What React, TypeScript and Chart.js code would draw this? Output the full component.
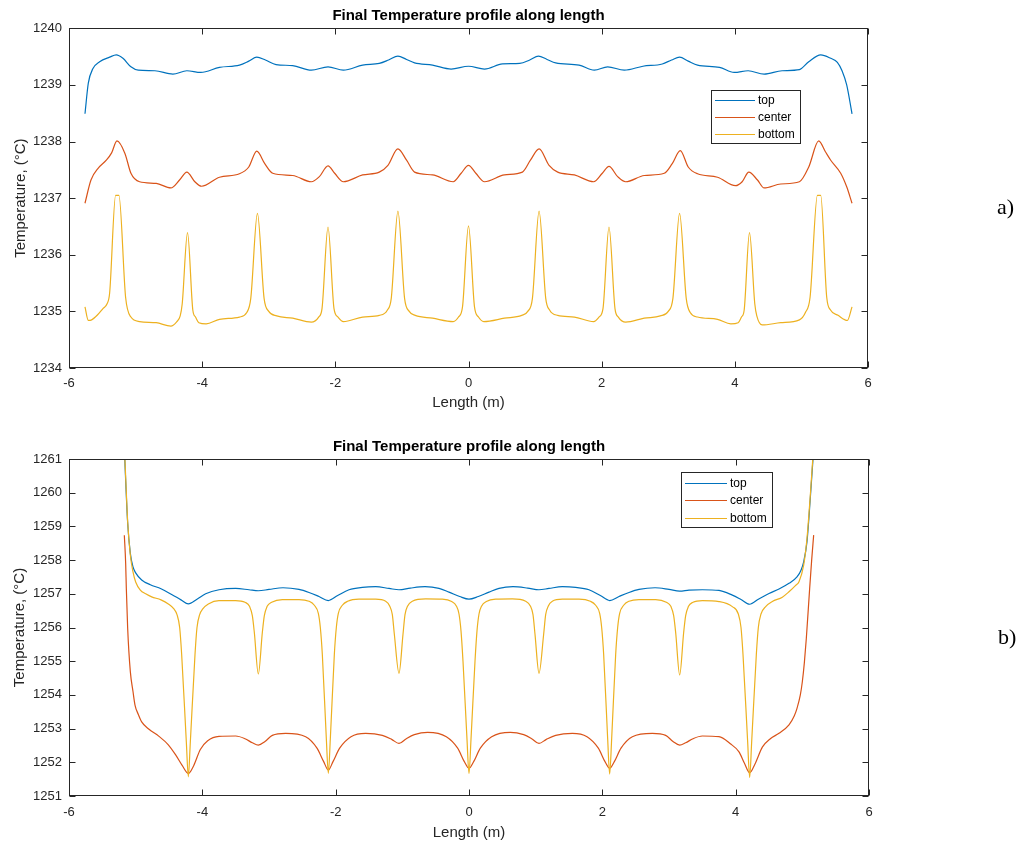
import React, { useEffect, useRef } from "react";
import { Chart, registerables } from "chart.js";

Chart.register(...registerables);

const FONT = '"Liberation Sans", Arial, Helvetica, sans-serif';
const TITLE = "Final Temperature profile along length";
const X_LABEL = "Length (m)";
const Y_LABEL = "Temperature, (°C)";
const SERIES_NAMES = ["top", "center", "bottom"];
const SERIES_COLORS = ["#0072BD", "#D95319", "#EDB120"];

// ---- (a) upper plot ----
const A_Y_MIN = 1234;
const A_Y_MAX = 1240;
const A_TOP: [number, number][] = [
  [-5.76, 1238.49], [-5.71, 1239.03], [-5.64, 1239.29], [-5.54, 1239.41], [-5.39, 1239.49], [-5.29, 1239.53],
  [-5.19, 1239.47], [-5.07, 1239.32], [-4.96, 1239.26], [-4.71, 1239.25], [-4.44, 1239.19], [-4.23, 1239.25],
  [-4.02, 1239.22], [-3.74, 1239.31], [-3.44, 1239.35], [-3.30, 1239.42], [-3.18, 1239.49], [-3.05, 1239.44],
  [-2.89, 1239.36], [-2.64, 1239.34], [-2.36, 1239.26], [-2.11, 1239.32], [-1.88, 1239.26], [-1.59, 1239.35],
  [-1.34, 1239.38], [-1.20, 1239.44], [-1.06, 1239.51], [-0.93, 1239.45], [-0.81, 1239.39], [-0.54, 1239.35],
  [-0.26, 1239.28], [0, 1239.33], [0.24, 1239.28], [0.51, 1239.37], [0.77, 1239.38], [0.92, 1239.44],
  [1.05, 1239.51], [1.18, 1239.45], [1.31, 1239.39], [1.66, 1239.35], [1.89, 1239.26], [2.09, 1239.32],
  [2.34, 1239.26], [2.62, 1239.33], [2.91, 1239.37], [3.05, 1239.44], [3.17, 1239.49], [3.30, 1239.42],
  [3.44, 1239.35], [3.77, 1239.31], [3.99, 1239.22], [4.20, 1239.25], [4.44, 1239.19], [4.71, 1239.25],
  [4.97, 1239.27], [5.11, 1239.41], [5.29, 1239.53], [5.44, 1239.47], [5.54, 1239.40], [5.61, 1239.25],
  [5.68, 1239.0], [5.76, 1238.49],
];
const A_CENTER: [number, number][] = [
  [-5.76, 1236.91], [-5.67, 1237.32], [-5.56, 1237.53], [-5.44, 1237.67], [-5.36, 1237.80], [-5.28, 1238.01],
  [-5.16, 1237.79], [-5.07, 1237.44], [-4.94, 1237.29], [-4.69, 1237.26], [-4.47, 1237.18], [-4.34, 1237.32],
  [-4.23, 1237.46], [-4.11, 1237.29], [-4.01, 1237.21], [-3.74, 1237.37], [-3.44, 1237.43], [-3.30, 1237.55],
  [-3.18, 1237.83], [-3.06, 1237.61], [-2.94, 1237.44], [-2.64, 1237.40], [-2.36, 1237.29], [-2.24, 1237.38],
  [-2.11, 1237.57], [-2.01, 1237.44], [-1.88, 1237.29], [-1.59, 1237.41], [-1.34, 1237.46], [-1.21, 1237.58],
  [-1.06, 1237.87], [-0.93, 1237.67], [-0.81, 1237.46], [-0.54, 1237.41], [-0.23, 1237.29], [-0.11, 1237.44],
  [0, 1237.58], [0.11, 1237.44], [0.24, 1237.29], [0.54, 1237.41], [0.81, 1237.46], [0.93, 1237.67],
  [1.06, 1237.87], [1.21, 1237.58], [1.34, 1237.46], [1.59, 1237.41], [1.88, 1237.29], [2.01, 1237.44],
  [2.11, 1237.56], [2.24, 1237.38], [2.36, 1237.29], [2.64, 1237.40], [2.94, 1237.44], [3.06, 1237.61],
  [3.18, 1237.84], [3.30, 1237.55], [3.44, 1237.43], [3.74, 1237.37], [4.01, 1237.22], [4.11, 1237.29],
  [4.21, 1237.46], [4.34, 1237.32], [4.44, 1237.18], [4.69, 1237.25], [4.97, 1237.29], [5.11, 1237.55],
  [5.26, 1238.01], [5.36, 1237.82], [5.44, 1237.67], [5.59, 1237.44], [5.68, 1237.20], [5.76, 1236.91],
];
const A_BOTTOM: [number, number][] = [
  [-5.76, 1235.08], [-5.71, 1234.84], [-5.66, 1234.85], [-5.57, 1234.94], [-5.49, 1235.05], [-5.43, 1235.13],
  [-5.39, 1235.32], [-5.30, 1237.05], [-5.25, 1237.05], [-5.15, 1235.25], [-5.07, 1234.90], [-4.94, 1234.82],
  [-4.69, 1234.80], [-4.47, 1234.74], [-4.38, 1234.82], [-4.33, 1234.92], [-4.30, 1235.13], [-4.22, 1236.39],
  [-4.14, 1235.02], [-4.10, 1234.90], [-4.05, 1234.80], [-3.94, 1234.78], [-3.74, 1234.86], [-3.44, 1234.90],
  [-3.33, 1234.98], [-3.27, 1235.23], [-3.17, 1236.73], [-3.07, 1235.23], [-3.00, 1235.00], [-2.88, 1234.92],
  [-2.64, 1234.88], [-2.36, 1234.81], [-2.25, 1234.90], [-2.20, 1235.05], [-2.11, 1236.49], [-2.02, 1235.05],
  [-1.96, 1234.90], [-1.88, 1234.82], [-1.59, 1234.90], [-1.34, 1234.93], [-1.22, 1235.02], [-1.16, 1235.23],
  [-1.06, 1236.77], [-0.96, 1235.23], [-0.89, 1235.00], [-0.80, 1234.93], [-0.54, 1234.88], [-0.23, 1234.82],
  [-0.15, 1234.90], [-0.09, 1235.08], [0, 1236.51], [0.09, 1235.08], [0.15, 1234.90], [0.23, 1234.82],
  [0.54, 1234.88], [0.80, 1234.93], [0.89, 1235.00], [0.96, 1235.23], [1.06, 1236.77], [1.16, 1235.23],
  [1.22, 1235.02], [1.34, 1234.93], [1.59, 1234.90], [1.88, 1234.82], [1.96, 1234.90], [2.02, 1235.05],
  [2.11, 1236.49], [2.20, 1235.05], [2.25, 1234.90], [2.36, 1234.81], [2.64, 1234.88], [2.88, 1234.92],
  [3.00, 1235.00], [3.07, 1235.23], [3.17, 1236.73], [3.27, 1235.23], [3.33, 1234.98], [3.44, 1234.90],
  [3.74, 1234.86], [3.94, 1234.78], [4.05, 1234.80], [4.10, 1234.90], [4.14, 1235.02], [4.22, 1236.39],
  [4.30, 1235.13], [4.33, 1234.92], [4.41, 1234.76], [4.69, 1234.80], [4.97, 1234.85], [5.06, 1234.98],
  [5.13, 1235.25], [5.24, 1237.05], [5.29, 1237.05], [5.38, 1235.25], [5.44, 1235.02], [5.55, 1234.93],
  [5.69, 1234.84], [5.76, 1235.08],
];

// ---- (b) lower plot ----
const B_Y_MIN = 1251;
const B_Y_MAX = 1261;
const B_TOP: [number, number][] = [
  [-5.17, 1261.3], [-5.12, 1259.1], [-5.08, 1258.2], [-5.04, 1257.8], [-5.00, 1257.62], [-4.91, 1257.41],
  [-4.78, 1257.27], [-4.62, 1257.15], [-4.46, 1256.98], [-4.32, 1256.82], [-4.21, 1256.70], [-4.08, 1256.84],
  [-3.95, 1257.00], [-3.75, 1257.12], [-3.50, 1257.16], [-3.30, 1257.12], [-3.16, 1257.09], [-3.00, 1257.13],
  [-2.79, 1257.18], [-2.55, 1257.13], [-2.40, 1257.04], [-2.25, 1256.92], [-2.11, 1256.80], [-1.97, 1256.95],
  [-1.80, 1257.12], [-1.60, 1257.19], [-1.40, 1257.21], [-1.20, 1257.16], [-1.05, 1257.12], [-0.88, 1257.17],
  [-0.66, 1257.21], [-0.45, 1257.16], [-0.30, 1257.05], [-0.14, 1256.92], [0, 1256.84], [0.14, 1256.92],
  [0.30, 1257.05], [0.45, 1257.16], [0.66, 1257.21], [0.88, 1257.17], [1.05, 1257.12], [1.20, 1257.16],
  [1.40, 1257.21], [1.60, 1257.19], [1.80, 1257.12], [1.97, 1256.95], [2.11, 1256.80], [2.25, 1256.92],
  [2.40, 1257.04], [2.55, 1257.13], [2.79, 1257.18], [3.00, 1257.13], [3.16, 1257.08], [3.30, 1257.11],
  [3.50, 1257.12], [3.75, 1257.10], [3.95, 1256.96], [4.08, 1256.83], [4.21, 1256.69], [4.34, 1256.84],
  [4.50, 1257.01], [4.65, 1257.14], [4.80, 1257.31], [4.92, 1257.50], [4.98, 1257.70], [5.02, 1257.95],
  [5.07, 1258.55], [5.12, 1259.85], [5.17, 1261.3],
];
const B_CENTER: [number, number][] = [
  [-5.17, 1258.74], [-5.15, 1257.90], [-5.14, 1257.16], [-5.12, 1255.98], [-5.08, 1254.69], [-5.04, 1254.10],
  [-5.01, 1253.70], [-4.96, 1253.42], [-4.91, 1253.20], [-4.80, 1252.98], [-4.65, 1252.77], [-4.51, 1252.52],
  [-4.40, 1252.22], [-4.30, 1251.90], [-4.21, 1251.67], [-4.13, 1251.90], [-4.03, 1252.38], [-3.92, 1252.64],
  [-3.75, 1252.77], [-3.50, 1252.78], [-3.36, 1252.70], [-3.25, 1252.58], [-3.16, 1252.51], [-3.06, 1252.62],
  [-2.95, 1252.80], [-2.75, 1252.86], [-2.45, 1252.76], [-2.28, 1252.42], [-2.18, 1252.02], [-2.11, 1251.77],
  [-2.04, 1252.02], [-1.94, 1252.42], [-1.77, 1252.76], [-1.55, 1252.86], [-1.30, 1252.80], [-1.16, 1252.68],
  [-1.05, 1252.56], [-0.94, 1252.70], [-0.82, 1252.82], [-0.62, 1252.89], [-0.34, 1252.76], [-0.17, 1252.42],
  [-0.07, 1252.02], [0, 1251.82], [0.07, 1252.02], [0.17, 1252.42], [0.34, 1252.76], [0.62, 1252.89],
  [0.82, 1252.82], [0.94, 1252.70], [1.05, 1252.56], [1.16, 1252.68], [1.30, 1252.80], [1.55, 1252.86],
  [1.77, 1252.76], [1.94, 1252.42], [2.04, 1252.02], [2.11, 1251.82], [2.18, 1252.02], [2.28, 1252.42],
  [2.45, 1252.76], [2.75, 1252.86], [2.95, 1252.80], [3.06, 1252.62], [3.16, 1252.51], [3.25, 1252.58],
  [3.36, 1252.70], [3.50, 1252.78], [3.75, 1252.76], [3.92, 1252.55], [4.05, 1252.31], [4.13, 1251.98],
  [4.21, 1251.69], [4.29, 1251.95], [4.40, 1252.45], [4.52, 1252.70], [4.65, 1252.86], [4.80, 1253.11],
  [4.88, 1253.38], [4.92, 1253.60], [4.97, 1254.00], [5.00, 1254.39], [5.03, 1254.95], [5.06, 1255.68],
  [5.11, 1257.16], [5.14, 1258.00], [5.17, 1258.74],
];
const B_BOTTOM: [number, number][] = [
  [-5.17, 1261.4], [-5.14, 1260.0], [-5.12, 1259.14], [-5.08, 1258.15], [-5.04, 1257.65], [-5.00, 1257.35],
  [-4.93, 1257.11], [-4.85, 1257.00], [-4.76, 1256.91], [-4.62, 1256.82], [-4.51, 1256.70], [-4.43, 1256.56],
  [-4.38, 1256.38], [-4.34, 1256.00], [-4.31, 1255.20], [-4.24, 1252.60], [-4.21, 1251.57], [-4.18, 1252.60],
  [-4.11, 1255.20], [-4.08, 1256.00], [-4.04, 1256.38], [-3.99, 1256.56], [-3.91, 1256.70], [-3.75, 1256.80],
  [-3.50, 1256.80], [-3.36, 1256.75], [-3.29, 1256.62], [-3.25, 1256.35], [-3.22, 1255.85], [-3.16, 1254.62],
  [-3.10, 1255.85], [-3.07, 1256.35], [-3.03, 1256.62], [-2.96, 1256.75], [-2.80, 1256.83], [-2.55, 1256.83],
  [-2.40, 1256.78], [-2.32, 1256.66], [-2.26, 1256.42], [-2.23, 1256.00], [-2.20, 1255.20], [-2.14, 1252.70],
  [-2.11, 1251.67], [-2.08, 1252.70], [-2.02, 1255.20], [-1.99, 1256.00], [-1.96, 1256.42], [-1.90, 1256.66],
  [-1.82, 1256.78], [-1.65, 1256.84], [-1.40, 1256.84], [-1.25, 1256.78], [-1.19, 1256.64], [-1.15, 1256.38],
  [-1.12, 1255.80], [-1.05, 1254.64], [-0.99, 1255.80], [-0.96, 1256.38], [-0.92, 1256.64], [-0.85, 1256.78],
  [-0.65, 1256.85], [-0.40, 1256.84], [-0.26, 1256.77], [-0.19, 1256.64], [-0.15, 1256.40], [-0.12, 1255.90],
  [-0.09, 1255.00], [-0.03, 1252.68], [0, 1251.67], [0.03, 1252.68], [0.09, 1255.00], [0.12, 1255.90],
  [0.15, 1256.40], [0.19, 1256.64], [0.26, 1256.77], [0.40, 1256.84], [0.65, 1256.85], [0.85, 1256.78],
  [0.92, 1256.64], [0.96, 1256.38], [0.99, 1255.80], [1.05, 1254.64], [1.12, 1255.80], [1.15, 1256.38],
  [1.19, 1256.64], [1.25, 1256.78], [1.40, 1256.84], [1.65, 1256.84], [1.82, 1256.78], [1.90, 1256.66],
  [1.96, 1256.42], [1.99, 1256.00], [2.02, 1255.20], [2.08, 1252.70], [2.11, 1251.65], [2.14, 1252.70],
  [2.20, 1255.20], [2.23, 1256.00], [2.26, 1256.42], [2.32, 1256.66], [2.40, 1256.78], [2.55, 1256.83],
  [2.80, 1256.83], [2.96, 1256.75], [3.03, 1256.62], [3.07, 1256.35], [3.10, 1255.85], [3.16, 1254.59],
  [3.22, 1255.85], [3.25, 1256.35], [3.29, 1256.62], [3.36, 1256.75], [3.50, 1256.80], [3.75, 1256.77],
  [3.95, 1256.62], [4.04, 1256.40], [4.08, 1256.00], [4.11, 1255.20], [4.18, 1252.60], [4.21, 1251.55],
  [4.24, 1252.60], [4.31, 1255.20], [4.34, 1256.00], [4.38, 1256.40], [4.45, 1256.62], [4.55, 1256.77],
  [4.70, 1256.90], [4.80, 1257.06], [4.90, 1257.25], [4.95, 1257.36], [5.02, 1257.85], [5.07, 1258.65],
  [5.12, 1259.93], [5.17, 1261.4],
];

const X_MIN = -6;
const X_MAX = 6;
const X_STEP = 2;

const matlabBox = {
  id: "matlabBox",
  afterDatasetsDraw(chart: any, _args: any, opts: any) {
    const { ctx, chartArea, scales } = chart;
    const L = Math.round(chartArea.left) + 0.5;
    const R = Math.round(chartArea.right) - 0.5;
    const T = Math.round(chartArea.top) + 0.5;
    const B = Math.round(chartArea.bottom) - 0.5;
    const tl = 6;
    ctx.save();
    ctx.strokeStyle = "#262626";
    ctx.lineWidth = 1;
    ctx.strokeRect(L, T, R - L, B - T);
    ctx.beginPath();
    scales.x.ticks.forEach((t: any) => {
      const px = Math.round(scales.x.getPixelForValue(t.value)) + 0.5;
      ctx.moveTo(px, B); ctx.lineTo(px, B - tl);
      ctx.moveTo(px, T); ctx.lineTo(px, T + tl);
    });
    scales.y.ticks.forEach((t: any) => {
      const py = Math.round(scales.y.getPixelForValue(t.value)) + 0.5;
      ctx.moveTo(L, py); ctx.lineTo(L + tl, py);
      ctx.moveTo(R, py); ctx.lineTo(R - tl, py);
    });
    ctx.stroke();

    const lg = opts.legend;
    if (lg) {
      ctx.fillStyle = "#ffffff";
      ctx.fillRect(lg.x, lg.y, lg.w, lg.h);
      ctx.strokeStyle = "#262626";
      ctx.strokeRect(Math.round(lg.x) + 0.5, Math.round(lg.y) + 0.5, lg.w, lg.h);
      ctx.font = `12px ${FONT}`;
      ctx.textBaseline = "middle";
      ctx.textAlign = "left";
      chart.data.datasets.forEach((ds: any, i: number) => {
        const yy = Math.round(lg.row0 + i * lg.step) + 0.5;
        ctx.strokeStyle = ds.borderColor;
        ctx.lineWidth = 1.2;
        ctx.beginPath();
        ctx.moveTo(lg.lx1, yy);
        ctx.lineTo(lg.lx2, yy);
        ctx.stroke();
        ctx.fillStyle = "#000000";
        ctx.fillText(ds.label, lg.tx, yy);
      });
    }
    ctx.restore();
  },
};

function makeConfig(series: [number, number][][], yMin: number, yMax: number, geo: any) {
  return {
    type: "line",
    data: {
      datasets: series.map((pts, i) => ({
        label: SERIES_NAMES[i],
        data: pts.map(([x, y]) => ({ x, y })),
        borderColor: SERIES_COLORS[i],
        backgroundColor: SERIES_COLORS[i],
        borderWidth: 1.2,
        pointRadius: 0,
        fill: false,
        cubicInterpolationMode: "monotone",
        order: 3 - i,
      })),
    },
    options: {
      animation: false,
      responsive: false,
      devicePixelRatio: 1,
      events: [],
      layout: { padding: { left: 0, right: geo.padRight, top: 0, bottom: 0 }, autoPadding: false },
      plugins: {
        legend: { display: false },
        tooltip: { enabled: false },
        title: {
          display: true,
          fullSize: false,
          text: TITLE,
          color: "#000000",
          font: { family: FONT, size: 15, weight: "bold" },
          padding: { top: geo.titleTop, bottom: geo.titleBottom },
        },
        matlabBox: { legend: geo.legend },
      },
      scales: {
        x: {
          type: "linear",
          min: X_MIN,
          max: X_MAX,
          grid: { display: false, drawTicks: false },
          border: { display: false },
          ticks: {
            stepSize: X_STEP,
            color: "#262626",
            font: { family: FONT, size: 13 },
            padding: geo.xTickPad,
            maxRotation: 0,
            autoSkip: false,
            callback: (v: any) => String(v),
          },
          title: {
            display: true,
            text: X_LABEL,
            color: "#262626",
            font: { family: FONT, size: 15 },
            padding: { top: 0, bottom: geo.xTitlePad },
          },
          afterFit: (s: any) => { s.height = geo.xHeight; },
        },
        y: {
          type: "linear",
          min: yMin,
          max: yMax,
          grid: { display: false, drawTicks: false },
          border: { display: false },
          ticks: {
            stepSize: 1,
            color: "#262626",
            font: { family: FONT, size: 13 },
            padding: 7,
            autoSkip: false,
            callback: (v: any) => String(v),
          },
          title: {
            display: true,
            text: Y_LABEL,
            color: "#262626",
            font: { family: FONT, size: 15 },
            padding: { top: geo.yTitlePad, bottom: 0 },
          },
          afterFit: (s: any) => { s.width = 69; },
        },
      },
    },
    plugins: [matlabBox],
  };
}

function ChartCanvas({ height, config }: { height: number; config: any }) {
  const ref = useRef<HTMLCanvasElement | null>(null);
  useEffect(() => {
    if (!ref.current) return;
    const chart = new Chart(ref.current, config);
    return () => chart.destroy();
  }, [config]);
  return (
    <canvas
      ref={ref}
      width={1024}
      height={height}
      style={{ display: "block", width: 1024, height }}
    />
  );
}

const CONFIG_A = makeConfig([A_TOP, A_CENTER, A_BOTTOM], A_Y_MIN, A_Y_MAX, {
  padRight: 156,
  titleTop: 6.5,
  titleBottom: 3.8,
  xHeight: 52,
  xTickPad: 8,
  xTitlePad: 8,
  yTitlePad: 12,
  legend: { x: 711, y: 90, w: 89, h: 53, row0: 100, step: 17, lx1: 715, lx2: 755, tx: 758 },
});

const CONFIG_B = makeConfig([B_TOP, B_CENTER, B_BOTTOM], B_Y_MIN, B_Y_MAX, {
  padRight: 155,
  titleTop: 18,
  titleBottom: 3,
  xHeight: 47,
  xTickPad: 9,
  xTitlePad: 1,
  yTitlePad: 10.5,
  legend: { x: 681, y: 52, w: 91, h: 55, row0: 62.7, step: 17.5, lx1: 685, lx2: 727, tx: 730 },
});

export default function App() {
  return (
    <div style={{ position: "absolute", left: 0, top: 0, width: 1024, height: 843, background: "#ffffff" }}>
      <ChartCanvas height={420} config={CONFIG_A} />
      <ChartCanvas height={423} config={CONFIG_B} />
      <div
        style={{
          position: "absolute",
          left: 997,
          top: 195,
          fontFamily: '"Liberation Serif", "Times New Roman", serif',
          fontSize: 22,
          lineHeight: "24px",
          color: "#000",
        }}
      >
        a)
      </div>
      <div
        style={{
          position: "absolute",
          left: 998,
          top: 625,
          fontFamily: '"Liberation Serif", "Times New Roman", serif',
          fontSize: 22,
          lineHeight: "24px",
          color: "#000",
        }}
      >
        b)
      </div>
    </div>
  );
}
